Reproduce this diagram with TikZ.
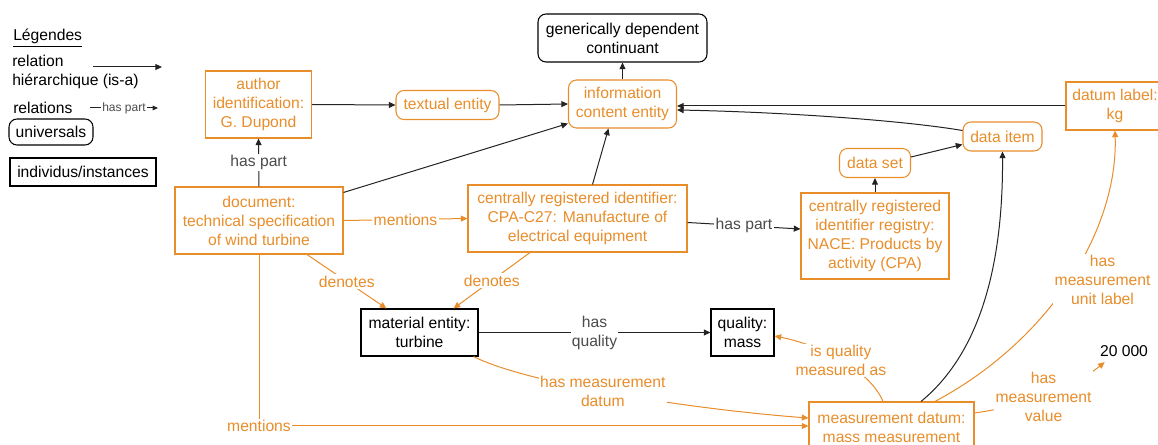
\documentclass[tikz,border=0pt]{standalone}
\usepackage{fontspec}
\setmainfont{Liberation Sans}
\usetikzlibrary{arrows.meta,calc}
\definecolor{bfoorange}{RGB}{232,141,42}
\definecolor{linegray}{RGB}{35,35,35}
\definecolor{labelgray}{RGB}{75,75,75}

\begin{document}
\begin{tikzpicture}[x=0.75pt, y=-0.75pt,
    font=\fontsize{11.75}{14.25}\selectfont,
    every node/.style={align=center, inner sep=0pt},
    univ/.style={draw, rounded corners=6pt, line width=0.8pt},
    inst/.style={draw, line width=0.8pt},
    orng/.style={draw=bfoorange, text=bfoorange},
    isa/.style={-{Triangle[length=5pt,width=4.5pt]}, draw=linegray, line width=0.75pt},
    rel/.style={-{Triangle[length=5pt,width=4.5pt]}, draw=linegray, line width=0.75pt},
    orel/.style={-{Triangle[length=5pt,width=4.5pt]}, draw=bfoorange, line width=0.75pt},
    lbl/.style={fill=white, inner sep=1pt, text=labelgray},
    olbl/.style={fill=white, inner sep=1pt, text=bfoorange}]
    \useasboundingbox (0,0) rectangle (1158,445);

    \node[anchor=west] (legtitle) at (13,38) {\underline{Légendes}};
    \node[anchor=west, align=left] (legisa) at (12,72) {relation\\hiérarchique (is-a)};
    \node[anchor=west] (legrel) at (13,108) {relations};
    \coordinate (isafrom) at (93,67);
    \coordinate (isato) at (162,67);
    \draw[isa] (isafrom) -- (isato);
    \coordinate (relfrom) at (90,108);
    \coordinate (relto) at (158,108);
    \draw[rel, -{Triangle[length=4pt,width=3.5pt]}] (relfrom) -- node[lbl, font=\fontsize{9}{10}\selectfont] {has part} (relto);
    \node[univ, minimum width=63pt, minimum height=19.5pt] (leguniv) at (51,132) {universals};
    \node[inst, minimum width=109.5pt, minimum height=21pt] (leginst) at (83,172) {individus/instances};

    \node[univ, minimum width=126.75pt, minimum height=36pt] (gdc) at (622.5,38) {generically dependent\\continuant};
    \node[univ, orng, minimum width=81pt, minimum height=36pt] (ice) at (622.5,104) {information\\content entity};
    \node[univ, orng, minimum width=77.25pt, minimum height=21.75pt] (textent) at (447.5,105) {textual entity};
    \node[inst, orng, minimum width=79.5pt, minimum height=50.25pt] (author) at (258.5,104.5) {author\\identification:\\G. Dupond};
    \node[inst, orng, minimum width=126pt, minimum height=50.25pt] (doc) at (259,220.5) {document:\\technical specification\\of wind turbine};
    \node[inst, orng, minimum width=164.25pt, minimum height=50.25pt] (cri) at (577.5,218.5) {centrally registered identifier:\\CPA-C27: Manufacture of\\electrical equipment};
    \node[inst, orng, minimum width=111pt, minimum height=64.5pt] (registry) at (875,236) {centrally registered\\identifier registry:\\NACE: Products by\\activity (CPA)};
    \node[univ, orng, minimum width=53.25pt, minimum height=21.75pt] (dataset) at (875,163) {data set};
    \node[univ, orng, minimum width=59.25pt, minimum height=21.75pt] (dataitem) at (1002.5,136.5) {data item};
    \node[inst, orng, minimum width=73.5pt, minimum height=36pt] (dlabel) at (1115,106) {datum label:\\kg};
    \node[inst, minimum width=87.75pt, minimum height=35.25pt] (turbine) at (419.5,332.5) {material entity:\\turbine};
    \node[inst, minimum width=47.25pt, minimum height=35.25pt] (mass) at (742.5,332.5) {quality:\\mass};
    \node[inst, orng, minimum width=123.75pt, minimum height=37.5pt] (mdatum) at (891.5,427) {measurement datum:\\mass measurement};
    \node[inner sep=4pt] (value) at (1124,351) {20 000};

    \draw[isa] (ice.north) -- (gdc.south);
    \draw[isa] (textent.east) -- (ice.west);
    \draw[isa] (author.east) -- (textent.west);
    \draw[isa] ($(doc.north east)+(0,6)$) -- ($(ice.south west)+(0,-5)$);
    \draw[isa] ($(cri.north)+(15,0)$) -- ($(ice.south)+(-14,0)$);
    \draw[isa] (registry.north) -- (dataset.south);
    \draw[isa] ($(dataset.east)+(0,-6)$) -- ($(dataitem.west)+(0,8)$);
    \draw[isa] ($(dataitem.west)+(0,-6)$) .. controls (900,120) and (780,112) .. ($(ice.east)+(0,6)$);
    \draw[isa] (dlabel.west) -- (dlabel.west -| ice.east);
    \draw[isa] ($(mdatum.north)+(29.5,0)$) .. controls (990,345) and (1003,240) .. (dataitem.south);

    \draw[rel] (doc.north) -- node[lbl] {has part} (author.south);
    \draw[rel] ($(cri.east)+(0,4)$) -- node[lbl] {has part} ($(registry.west)+(0,-7)$);
    \draw[rel] (turbine.east) -- node[lbl] {has\\quality} (mass.west);

    \draw[orel] (doc.east) -- node[olbl] {mentions} (cri.west);
    \draw[orel] ($(doc.south)+(48,0)$) -- node[olbl] {denotes} ($(turbine.north west)+(26,0)$);
    \draw[orel] ($(cri.south)+(-47.5,0)$) -- node[olbl] {denotes} ($(turbine.north east)+(-25,0)$);
    \draw[orel] ($(turbine.south east)+(-5,0)$) .. controls (530,385) and (700,410) .. node[olbl, pos=0.45] {has measurement\\datum} ($(mdatum.west)+(0,-9)$);
    \draw[orel] (doc.south) |- node[olbl, pos=0.5] {mentions} ($(mdatum.west)+(0,-1)$);
    \draw[orel] ($(mdatum.north)+(-8.5,0)$) .. controls (870,370) and (820,345) .. node[olbl] {is quality\\measured as} ($(mass.east)+(0,3.5)$);
    \draw[orel] ($(mdatum.north)+(43.5,0)$) .. controls (1050,340) and (1118,230) .. node[olbl, pos=0.5, xshift=25pt] {has\\measurement\\unit label} (dlabel.south);
    \draw[orel] ($(mdatum.east)+(0,-14)$) .. controls (1030,405) and (1070,390) .. node[olbl, pos=0.47] {has\\measurement\\value} (value.210);
\end{tikzpicture}
\end{document}
